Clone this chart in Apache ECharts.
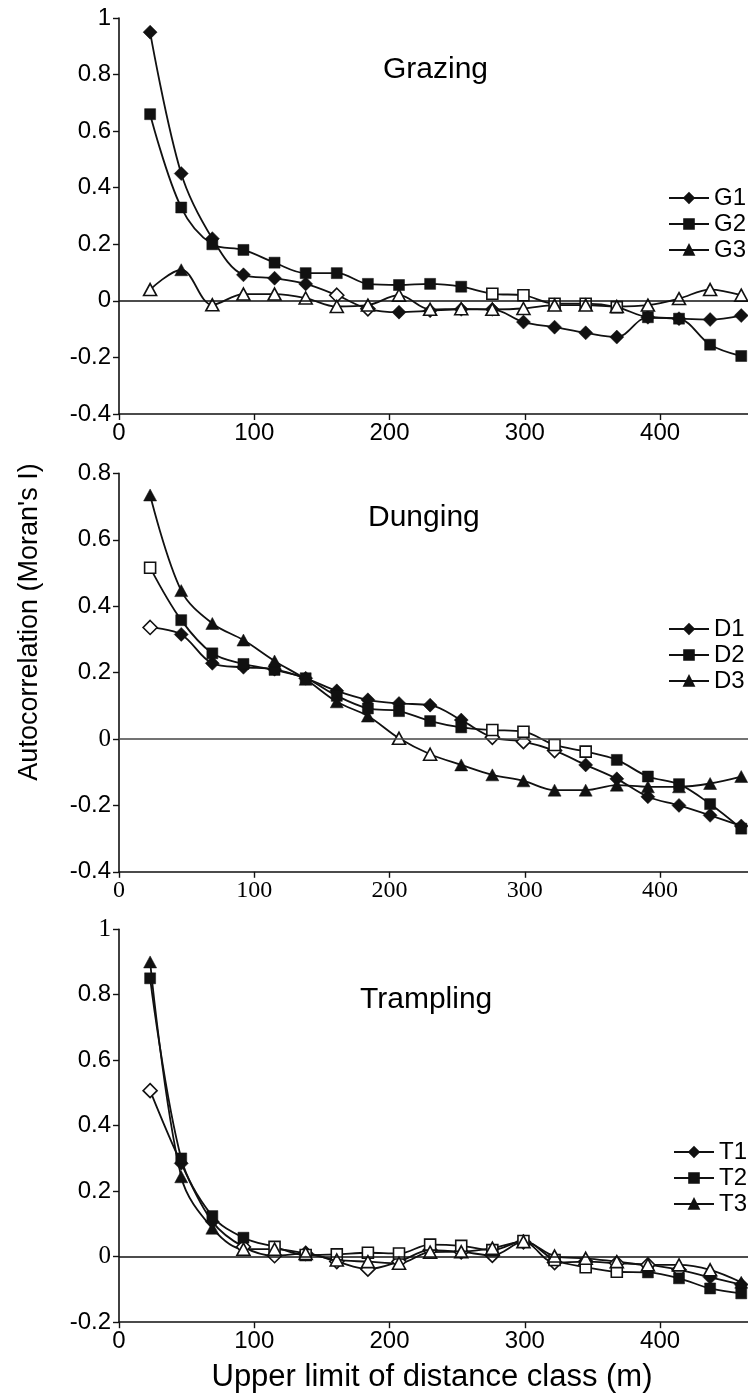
<!DOCTYPE html>
<html>
<head>
<meta charset="utf-8">
<script src="https://cdn.jsdelivr.net/npm/echarts@6/dist/echarts.min.js"></script>
<style>
  html, body { margin: 0; padding: 0; background: #ffffff; }
  #chart { width: 748px; height: 1398px; }
</style>
</head>
<body>
<div id="chart"></div>
<script>
// Upper limit of each distance class (m)
const distance = [23, 46, 69, 92, 115, 138, 161, 184, 207, 230, 253, 276, 299, 322, 345, 368, 391, 414, 437, 460];
const xTicks = [0, 100, 200, 300, 400];

// Moran's I per distance class; *Sig: 1 = significant (filled marker), 0 = open marker
const G1 = [0.95, 0.45, 0.22, 0.092, 0.08, 0.06, 0.02, -0.028, -0.04, -0.035, -0.03, -0.03, -0.075, -0.093, -0.113, -0.128, -0.058, -0.063, -0.066, -0.052];
const G1Sig = [1, 1, 1, 1, 1, 1, 0, 0, 1, 1, 1, 1, 1, 1, 1, 1, 1, 1, 1, 1];
const G2 = [0.66, 0.33, 0.20, 0.18, 0.135, 0.098, 0.098, 0.06, 0.056, 0.06, 0.05, 0.025, 0.02, -0.01, -0.01, -0.022, -0.058, -0.063, -0.155, -0.195];
const G2Sig = [1, 1, 1, 1, 1, 1, 1, 1, 1, 1, 1, 0, 0, 0, 0, 0, 1, 1, 1, 1];
const G3 = [0.04, 0.11, -0.014, 0.024, 0.024, 0.01, -0.02, -0.015, 0.02, -0.03, -0.028, -0.03, -0.027, -0.015, -0.015, -0.02, -0.015, 0.008, 0.04, 0.02];
const G3Sig = [0, 1, 0, 0, 0, 0, 0, 0, 0, 0, 0, 0, 0, 0, 0, 0, 0, 0, 0, 0];

const D1 = [0.336, 0.315, 0.228, 0.216, 0.21, 0.183, 0.145, 0.118, 0.107, 0.102, 0.057, 0.005, -0.008, -0.035, -0.078, -0.12, -0.174, -0.2, -0.23, -0.262];
const D1Sig = [0, 1, 1, 1, 1, 1, 1, 1, 1, 1, 1, 0, 0, 0, 1, 1, 1, 1, 1, 1];
const D2 = [0.516, 0.358, 0.258, 0.226, 0.208, 0.183, 0.13, 0.092, 0.084, 0.054, 0.035, 0.027, 0.022, -0.018, -0.038, -0.063, -0.113, -0.136, -0.196, -0.27];
const D2Sig = [0, 1, 1, 1, 1, 1, 1, 1, 1, 1, 1, 0, 0, 0, 0, 1, 1, 1, 1, 1];
const D3 = [0.735, 0.447, 0.348, 0.298, 0.235, 0.18, 0.112, 0.069, 0.002, -0.046, -0.078, -0.108, -0.126, -0.154, -0.154, -0.139, -0.144, -0.144, -0.134, -0.113];
const D3Sig = [1, 1, 1, 1, 1, 1, 1, 1, 0, 0, 1, 1, 1, 1, 1, 1, 1, 1, 1, 1];

const T1 = [0.507, 0.285, 0.107, 0.03, 0.003, 0.01, -0.015, -0.038, -0.015, 0.02, 0.015, 0.004, 0.045, -0.018, -0.015, -0.02, -0.025, -0.04, -0.063, -0.085];
const T1Sig = [0, 1, 1, 0, 0, 0, 0, 0, 0, 0, 0, 0, 0, 0, 0, 0, 0, 0, 1, 1];
const T2 = [0.85, 0.30, 0.124, 0.058, 0.03, 0.005, 0.007, 0.012, 0.01, 0.037, 0.033, 0.02, 0.048, -0.01, -0.032, -0.046, -0.048, -0.066, -0.097, -0.112];
const T2Sig = [1, 1, 1, 1, 0, 0, 0, 0, 0, 0, 0, 0, 0, 0, 0, 0, 1, 1, 1, 1];
const T3 = [0.90, 0.244, 0.087, 0.023, 0.023, 0.01, -0.01, -0.015, -0.02, 0.014, 0.015, 0.026, 0.046, 0.002, -0.005, -0.015, -0.025, -0.025, -0.04, -0.078];
const T3Sig = [1, 1, 1, 0, 0, 0, 0, 0, 0, 0, 0, 0, 0, 0, 0, 0, 0, 0, 0, 1];

const panelTitles = ['Grazing', 'Dunging', 'Trampling'];
const yTitle = "Autocorrelation (Moran's I)";
const xTitle = 'Upper limit of distance class (m)';

const SANS = "'Liberation Sans', Arial, sans-serif";
const SERIF = "'Liberation Serif', 'Times New Roman', serif";
const INK = '#111111';

const chart = echarts.init(document.getElementById('chart'), null, { renderer: 'canvas' });

const grids = [
  { left: 119, top: 18, width: 630, height: 396 },
  { left: 119, top: 473.4, width: 630, height: 398.4 },
  { left: 119, top: 929.2, width: 630, height: 393 }
];

const yRanges = [
  { min: -0.4, max: 1 },
  { min: -0.4, max: 0.8 },
  { min: -0.2, max: 1 }
];

function fmt(v) {
  return Math.abs(v) < 1e-9 ? '0' : String(+v.toFixed(1));
}

// which tick labels are set in a serif face, per panel
const serifY = [[], ['0'], ['1', '0']];
const serifX = [false, true, false];

const xAxes = grids.map((g, i) => ({
  type: 'value',
  gridIndex: i,
  min: 0,
  max: 465,
  axisLine: { onZero: false, lineStyle: { color: INK, width: 1.6 } },
  axisTick: { customValues: xTicks, length: 6, lineStyle: { color: INK, width: 1.4 } },
  axisLabel: {
    customValues: xTicks,
    margin: 7,
    color: '#000',
    fontSize: 24,
    fontFamily: serifX[i] ? SERIF : SANS
  },
  splitLine: { show: false }
}));

const yAxes = grids.map((g, i) => ({
  type: 'value',
  gridIndex: i,
  min: yRanges[i].min,
  max: yRanges[i].max,
  interval: 0.2,
  axisLine: { show: true, lineStyle: { color: INK, width: 1.6 } },
  axisTick: { show: true, length: 6, lineStyle: { color: INK, width: 1.4 } },
  axisLabel: {
    margin: 8,
    color: '#000',
    fontSize: 24,
    fontFamily: SANS,
    formatter: function (v) {
      const s = fmt(v);
      return serifY[i].indexOf(s) >= 0 ? '{s|' + s + '}' : s;
    },
    rich: { s: { fontFamily: SERIF, fontSize: 25, color: '#000' } }
  },
  splitLine: { show: false }
}));

const hollow = { color: '#ffffff', borderColor: INK, borderWidth: 1.6 };
const shapes = { 1: 'diamond', 2: 'rect', 3: 'triangle' };
const sizes = { 1: [14, 14], 2: [11, 11], 3: [13, 12] };

function makeSeries(name, values, sig, kind, panel, withZero) {
  const s = {
    name: name,
    type: 'line',
    xAxisIndex: panel,
    yAxisIndex: panel,
    smooth: 0.35,
    symbol: shapes[kind],
    symbolSize: sizes[kind],
    showAllSymbol: true,
    lineStyle: { color: INK, width: 1.8 },
    itemStyle: { color: INK, borderColor: INK, borderWidth: 0.5 },
    emphasis: { disabled: true },
    data: values.map((v, k) => ({
      value: [distance[k], v],
      itemStyle: sig[k] ? undefined : hollow
    }))
  };
  if (withZero) {
    s.markLine = {
      silent: true,
      symbol: ['none', 'none'],
      label: { show: false },
      lineStyle: { color: panel === 1 ? '#444' : INK, width: 1.5, type: 'solid' },
      data: [{ yAxis: 0 }]
    };
  }
  return s;
}

const series = [
  makeSeries('G1', G1, G1Sig, 1, 0, true),
  makeSeries('G2', G2, G2Sig, 2, 0, false),
  makeSeries('G3', G3, G3Sig, 3, 0, false),
  makeSeries('D1', D1, D1Sig, 1, 1, true),
  makeSeries('D2', D2, D2Sig, 2, 1, false),
  makeSeries('D3', D3, D3Sig, 3, 1, false),
  makeSeries('T1', T1, T1Sig, 1, 2, true),
  makeSeries('T2', T2, T2Sig, 2, 2, false),
  makeSeries('T3', T3, T3Sig, 3, 2, false)
];

function makeLegend(names, left, top) {
  return {
    data: names,
    orient: 'vertical',
    left: left,
    top: top,
    itemWidth: 40,
    itemHeight: 12,
    itemGap: 2,
    selectedMode: false,
    padding: 0,
    textStyle: { fontFamily: SANS, fontSize: 24, lineHeight: 22, color: '#000' }
  };
}

const titleText = (text, x, y) => ({
  type: 'text',
  x: x,
  y: y,
  style: { text: text, fill: '#000', font: '30px ' + SANS, textVerticalAlign: 'middle' },
  silent: true
});

chart.setOption({
  animation: false,
  backgroundColor: '#ffffff',
  grid: grids,
  xAxis: xAxes,
  yAxis: yAxes,
  legend: [
    makeLegend(['G1', 'G2', 'G3'], 668, 186),
    makeLegend(['D1', 'D2', 'D3'], 668, 617),
    makeLegend(['T1', 'T2', 'T3'], 673, 1140)
  ],
  graphic: [
    titleText(panelTitles[0], 383, 70),
    titleText(panelTitles[1], 368, 518),
    titleText(panelTitles[2], 360, 1000),
    {
      type: 'text',
      x: 30,
      y: 622,
      rotation: Math.PI / 2,
      style: { text: yTitle, fill: '#000', font: '27px ' + SANS, textAlign: 'center', textVerticalAlign: 'middle' },
      silent: true
    },
    {
      type: 'text',
      x: 432,
      y: 1377,
      style: { text: xTitle, fill: '#000', font: '31px ' + SANS, textAlign: 'center', textVerticalAlign: 'middle' },
      silent: true
    }
  ],
  series: series
});
</script>
</body>
</html>
